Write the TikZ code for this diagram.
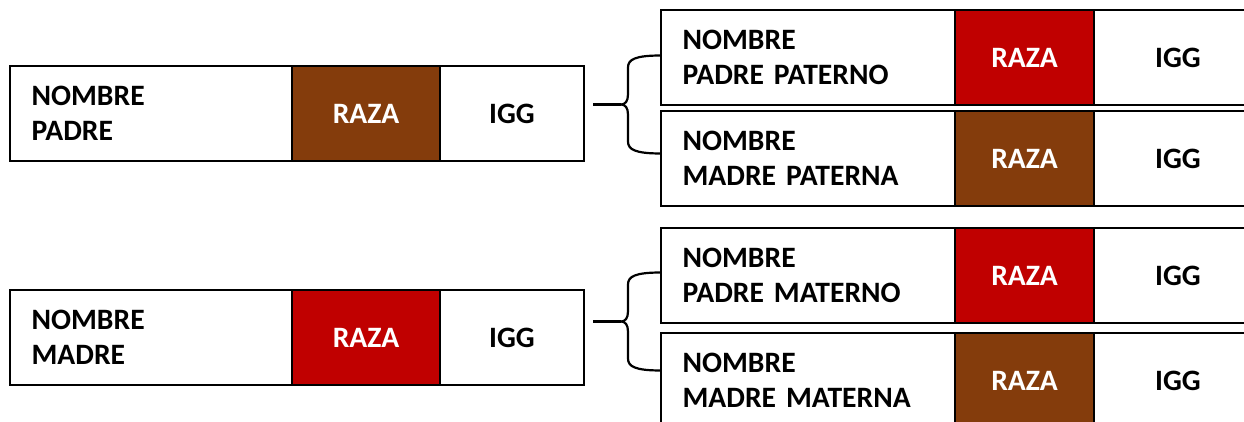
\documentclass[tikz,border=0pt]{standalone}
\usepackage{fontspec}
\setmainfont{Carlito}
\usetikzlibrary{positioning, calc}
\definecolor{razacafe}{HTML}{843C0C}
\definecolor{razaroja}{HTML}{C00000}

\begin{document}
\begin{tikzpicture}[
    x=0.5pt, y=-0.5pt,
    every node/.style={font=\bfseries\fontsize{14.8}{17.5}\selectfont},
    celda/.style={draw=black, line width=1.45pt, minimum height=47.5pt, inner sep=0pt, outer sep=0pt},
    nombre/.style={celda, anchor=north west, align=left, inner xsep=10.8pt, text width=#1},
    raza/.style={celda, fill=#1, text=white, minimum width=74pt},
    igg/.style={celda, fill=white, minimum width=72pt},
    llave/.style={line width=1.1pt, line join=round},
    tallo/.style={line width=1.5pt}
]
   \useasboundingbox (0,0) rectangle (1244,422);

   % Padre y madre
   \node[nombre=119.4pt] (pname) at (10,66) {NOMBRE\\PADRE};
   \node[raza=razacafe, right=0pt of pname] (praza) {RAZA};
   \node[igg, right=0pt of praza] (pigg) {IGG};

   \node[nombre=119.4pt] (mname) at (10,290) {NOMBRE\\MADRE};
   \node[raza=razaroja, right=0pt of mname] (mraza) {RAZA};
   \node[igg, right=0pt of mraza] (migg) {IGG};

   % Abuelos paternos
   \node[nombre=125.4pt] (ppname) at (661,10) {NOMBRE\\PADRE PATERNO};
   \node[raza=razaroja, minimum width=69.5pt, right=0pt of ppname] (ppraza) {RAZA};
   \node[igg, minimum width=84pt, right=0pt of ppraza] (ppigg) {IGG};

   \node[nombre=125.4pt, below=3pt of ppname.south west, anchor=north west] (mpname) {NOMBRE\\MADRE PATERNA};
   \node[raza=razacafe, minimum width=69.5pt, right=0pt of mpname] (mpraza) {RAZA};
   \node[igg, minimum width=84pt, right=0pt of mpraza] (mpigg) {IGG};

   % Abuelos maternos
   \node[nombre=125.4pt] (pmname) at (661,228) {NOMBRE\\PADRE MATERNO};
   \node[raza=razaroja, minimum width=69.5pt, right=0pt of pmname] (pmraza) {RAZA};
   \node[igg, minimum width=84pt, right=0pt of pmraza] (pmigg) {IGG};

   \node[nombre=125.4pt, below=5pt of pmname.south west, anchor=north west] (mmname) {NOMBRE\\MADRE MATERNA};
   \node[raza=razacafe, minimum width=69.5pt, right=0pt of mmname] (mmraza) {RAZA};
   \node[igg, minimum width=84pt, right=0pt of mmraza] (mmigg) {IGG};

   % Llaves
   \foreach \arriba/\abajo/\izq/\da/\db in {pp/mp/p/1/2.5, pm/mm/m/1.5/5}{
     \coordinate (a) at ([yshift=\da pt]\arriba name.west);
     \coordinate (b) at ([yshift=\db pt]\abajo name.west);
     \coordinate (t) at ($(a)!0.5!(b)+(-40,0)$);
     \draw[llave] (a) .. controls +(-26,0) and +(0,-8) .. ($(a)+(-33,12)$)
        -- ($(t)+(7,-10)$) .. controls +(0,7) and +(4,0) .. (t)
        .. controls +(4,0) and +(0,-7) .. ($(t)+(7,10)$)
        -- ($(b)+(-33,-12)$) .. controls +(0,8) and +(-26,0) .. (b);
     \draw[tallo] (t -| \izq igg.east) ++(9,0) -- (t);
   }
\end{tikzpicture}
\end{document}
